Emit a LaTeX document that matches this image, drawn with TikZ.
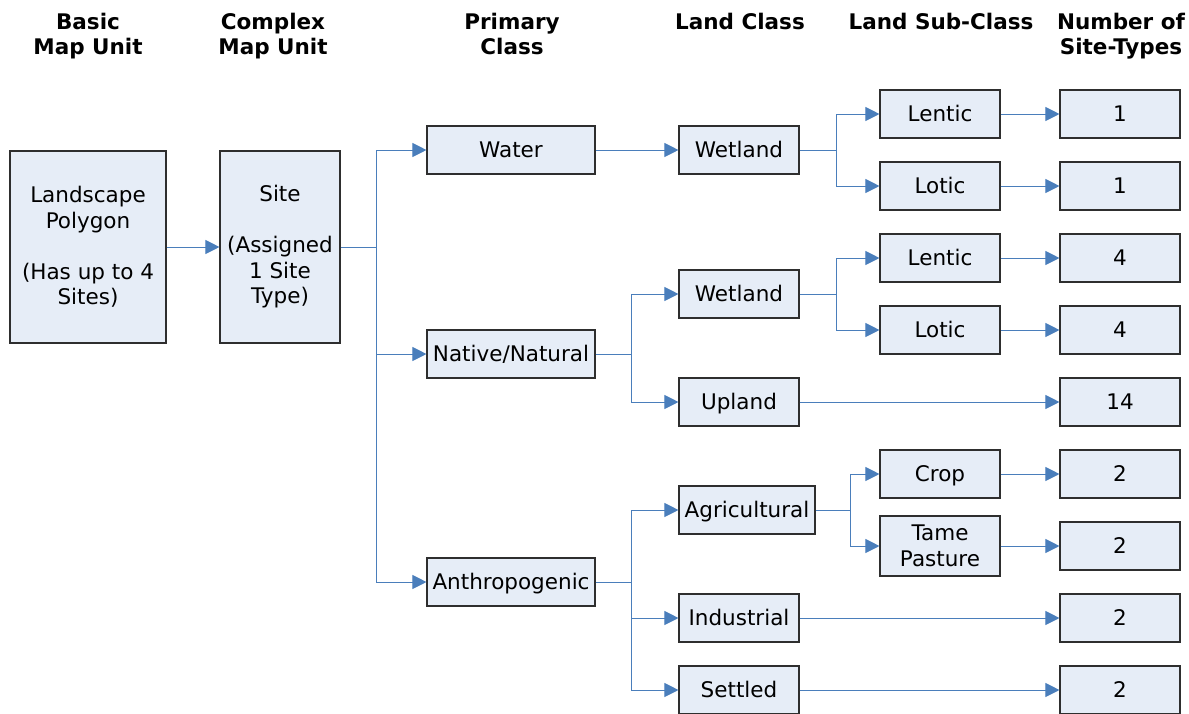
\documentclass[tikz,border=0pt]{standalone}
\usepackage{fontspec}
\setmainfont{DejaVu Sans}
\usetikzlibrary{arrows.meta}
\definecolor{boxfill}{HTML}{E6EDF7}
\definecolor{boxdraw}{HTML}{2E2E2E}
\definecolor{linkc}{HTML}{4A7EBB}
\tikzset{
  box/.style={draw=boxdraw, fill=boxfill, line width=1.1pt, inner sep=0pt, align=center,
    font=\fontsize{21.5}{25.5}\selectfont, minimum width=120pt, minimum height=48pt},
  sbox/.style={box, text height=15.7pt, text depth=0pt},
  head/.style={anchor=north, inner sep=0pt, align=center, font=\fontsize{21.5}{25}\selectfont\bfseries},
  ln/.style={draw=linkc, line width=1pt},
  arr/.style={ln, -{Triangle[length=14pt,width=14pt]}, fill=none},
}
\begin{document}
\begin{tikzpicture}[x=1pt,y=-1pt]
\useasboundingbox (0,0) rectangle (1189,713);
% headers
\node[head] (h1) at (88,13) {Basic\\Map Unit};
\node[head] (h2) at (273,13) {Complex\\Map Unit};
\node[head] (h3) at (512,13) {Primary\\Class};
\node[head] (h4) at (740,13) {Land Class};
\node[head] (h5) at (941,13) {Land Sub-Class};
\node[head] (h6) at (1121,13) {Number of\\Site-Types};
% column 1-2
\node[box, minimum width=156pt, minimum height=192pt] (land) at (88,247) {Landscape\\Polygon\\ \\(Has up to 4\\Sites)};
\node[box, minimum width=120pt, minimum height=192pt] (site) at (280,247) {Site\\ \\(Assigned\\1 Site\\Type)};
% primary
\node[sbox, minimum width=168pt] (water) at (511,150) {Water};
\node[sbox, minimum width=168pt] (native) at (511,354) {Native/Natural};
\node[sbox, minimum width=168pt] (anthro) at (511,582) {Anthropogenic};
% land class
\node[sbox] (wet1) at (739,150) {Wetland};
\node[sbox] (wet2) at (739,294) {Wetland};
\node[sbox] (upland) at (739,402) {Upland};
\node[sbox, minimum width=136pt] (agri) at (747,510) {Agricultural};
\node[sbox] (indus) at (739,618) {Industrial};
\node[sbox] (settled) at (739,690) {Settled};
% sub-class
\node[sbox] (lentic1) at (940,114) {Lentic};
\node[sbox] (lotic1) at (940,186) {Lotic};
\node[sbox] (lentic2) at (940,258) {Lentic};
\node[sbox] (lotic2) at (940,330) {Lotic};
\node[sbox] (crop) at (940,474) {Crop};
\node[box, minimum height=60pt] (tame) at (940,546) {Tame\\Pasture};
% numbers
\node[sbox] (n1) at (1120,114) {1};
\node[sbox] (n2) at (1120,186) {1};
\node[sbox] (n3) at (1120,258) {4};
\node[sbox] (n4) at (1120,330) {4};
\node[sbox] (n5) at (1120,402) {14};
\node[sbox] (n6) at (1120,474) {2};
\node[sbox] (n7) at (1120,546) {2};
\node[sbox] (n8) at (1120,618) {2};
\node[sbox] (n9) at (1120,690) {2};
% bus points
\coordinate (b1) at (376,247);
\coordinate (b2) at (836,150);
\coordinate (b3) at (631,354);
\coordinate (b4) at (836,294);
\coordinate (b5) at (631,582);
\coordinate (b6) at (850,510);
% connectors
\draw[arr] (land.east) -- (site.west);
\draw[ln] (site.east) -- (b1);
\draw[arr] (b1) |- (water.west);
\draw[arr] (b1) |- (native.west);
\draw[arr] (b1) |- (anthro.west);
\draw[arr] (water.east) -- (wet1.west);
\draw[ln] (wet1.east) -- (b2);
\draw[arr] (b2) |- (lentic1.west);
\draw[arr] (b2) |- (lotic1.west);
\draw[ln] (native.east) -- (b3);
\draw[arr] (b3) |- (wet2.west);
\draw[arr] (b3) |- (upland.west);
\draw[ln] (wet2.east) -- (b4);
\draw[arr] (b4) |- (lentic2.west);
\draw[arr] (b4) |- (lotic2.west);
\draw[ln] (anthro.east) -- (b5);
\draw[arr] (b5) |- (agri.west);
\draw[arr] (b5) |- (indus.west);
\draw[arr] (b5) |- (settled.west);
\draw[ln] (agri.east) -- (b6);
\draw[arr] (b6) |- (crop.west);
\draw[arr] (b6) |- (tame.west);
\draw[arr] (lentic1.east) -- (n1.west);
\draw[arr] (lotic1.east) -- (n2.west);
\draw[arr] (lentic2.east) -- (n3.west);
\draw[arr] (lotic2.east) -- (n4.west);
\draw[arr] (upland.east) -- (n5.west);
\draw[arr] (crop.east) -- (n6.west);
\draw[arr] (tame.east) -- (n7.west);
\draw[arr] (indus.east) -- (n8.west);
\draw[arr] (settled.east) -- (n9.west);
\end{tikzpicture}
\end{document}
